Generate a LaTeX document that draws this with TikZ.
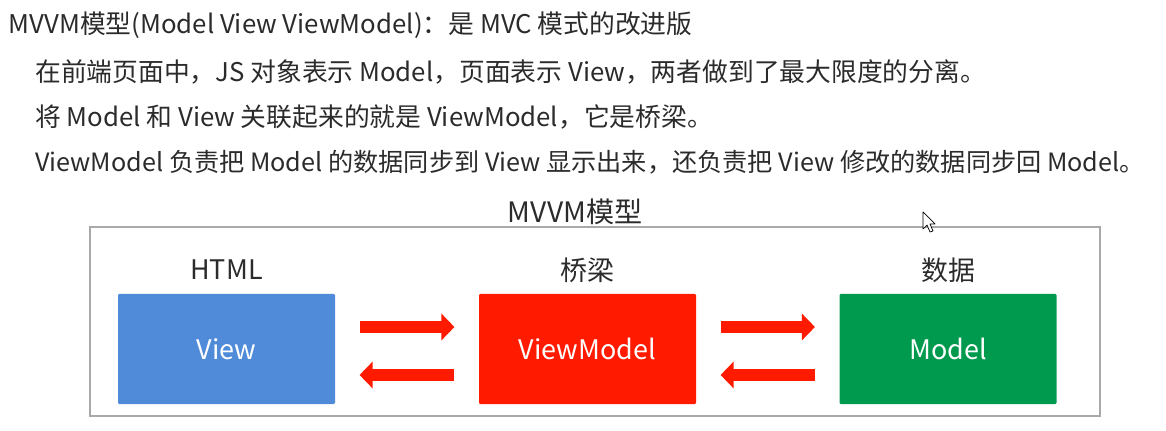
\documentclass[tikz,border=0pt]{standalone}
\usepackage{fontspec}
\setmainfont{Noto Sans CJK SC}
\usepackage{tikz}
\usetikzlibrary{arrows.meta, positioning}
\definecolor{viewblue}{HTML}{4F8BD9}
\definecolor{vmred}{HTML}{FF1A00}
\definecolor{modelgreen}{HTML}{009A4E}
\definecolor{framegray}{HTML}{A9A9A9}
\definecolor{inkgray}{HTML}{2B2B2B}

\begin{document}
\begin{tikzpicture}[font=\fontsize{22}{26}\selectfont, text=inkgray]
	\tikzset{box/.style={rectangle, rounded corners=1pt, minimum width=6.51cm, minimum height=3.3cm, text=white, font=\fontsize{23}{26}\selectfont},
		label/.style={font=\fontsize{23}{26}\selectfont},
		line/.style={anchor=west, inner sep=0pt},
		pipe/.style={vmred, line width=0.36cm, -{Triangle[length=0.39cm, width=0.78cm]}, shorten <=0.73cm, shorten >=0.73cm}}
	\useasboundingbox (0,0) rectangle (34.98,12.9);
	% text above the picture
	\node[line] (l1) at (0.24,12.15) {MVVM模型(Model View ViewModel)：是 MVC 模式的改进版};
	\node[line] (l2) at (1.05,10.74) {在前端页面中，JS 对象表示 Model，页面表示 View，两者做到了最大限度的分离。};
	\node[line] (l3) at (1.05,9.39) {将 Model 和 View 关联起来的就是 ViewModel，它是桥梁。};
	\node[line, font=\fontsize{21.5}{26}\selectfont] (l4) at (1.05,8.04) {ViewModel 负责把 Model 的数据同步到 View 显示出来，还负责把 View 修改的数据同步回 Model。};
	% the model
	\node[draw=framegray, line width=0.06cm, minimum width=30.3cm, minimum height=5.67cm, inner sep=0pt] (frame) at (17.85,3.255) {};
	\node[font=\fontsize{24}{28}\selectfont] (title) at (17.25,6.54) {MVVM模型};
	\node[box, fill=viewblue] (view) at (6.795,2.43) {View};
	\node[box, fill=vmred] (vm) at (17.625,2.43) {ViewModel};
	\node[box, fill=modelgreen] (model) at (28.44,2.43) {Model};
	\node[label] (html) at (6.795,4.8) {HTML};
	\node[label] (bridge) at (17.625,4.8) {桥梁};
	\node[label] (data) at (28.44,4.8) {数据};
	\draw[pipe] ([yshift=0.66cm]view.east) -- ([yshift=0.66cm]vm.west);
	\draw[pipe] ([yshift=-0.78cm]vm.west) -- ([yshift=-0.78cm]view.east);
	\draw[pipe] ([yshift=0.66cm]vm.east) -- ([yshift=0.66cm]model.west);
	\draw[pipe] ([yshift=-0.78cm]model.west) -- ([yshift=-0.78cm]vm.east);
	% mouse pointer
	\draw[black, fill=white, line width=0.6pt, line join=round] (27.69,6.54) -- ++(0,-0.51) -- ++(0.12,0.12) -- ++(0.09,-0.21) -- ++(0.09,0.03) -- ++(-0.09,0.21) -- ++(0.15,0) -- cycle;
\end{tikzpicture}
\end{document}
